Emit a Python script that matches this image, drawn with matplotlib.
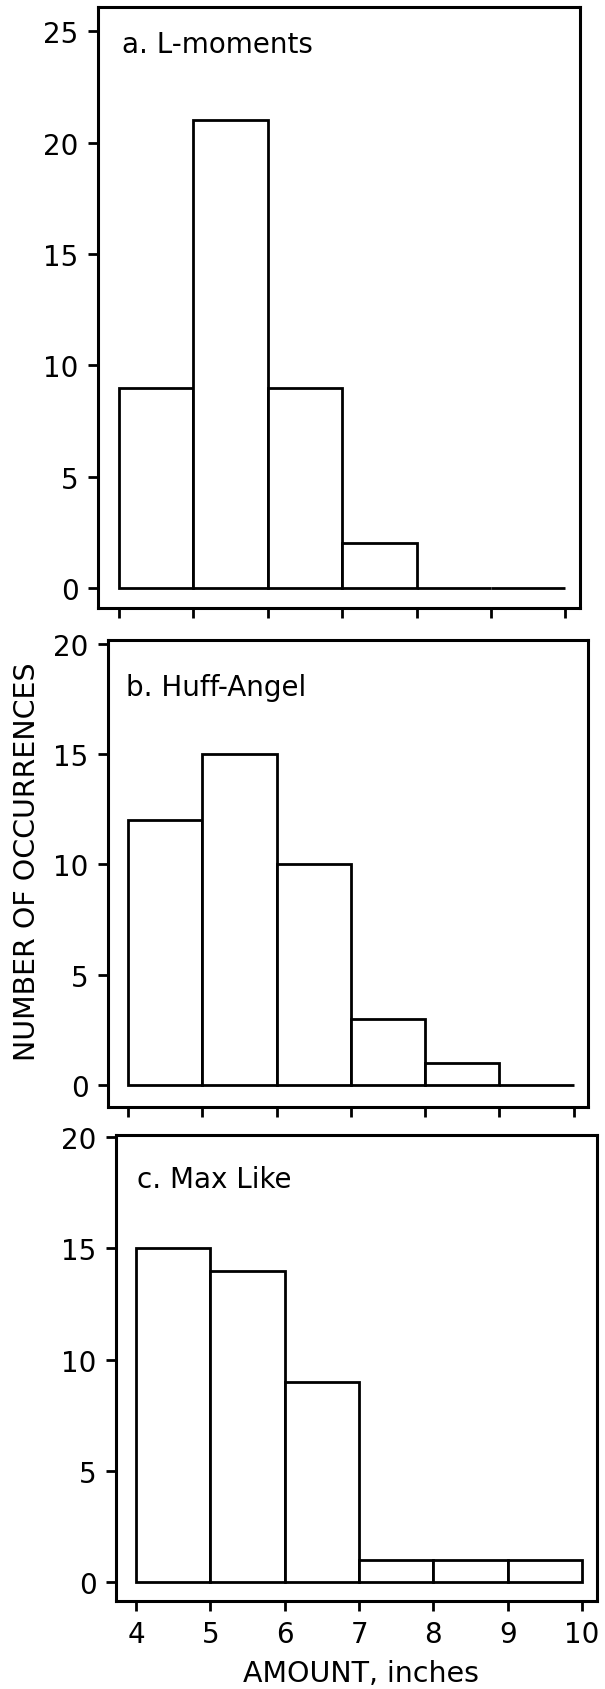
import numpy as np
import matplotlib
matplotlib.use("Agg")
import matplotlib.pyplot as plt

# --- data: counts per 1-inch bin ---
bin_left = [4, 5, 6, 7, 8, 9]
bin_edges = [4, 5, 6, 7, 8, 9, 10]
panel_titles = ["a. L-moments", "b. Huff-Angel", "c. Max Like"]
counts_lmom = [9, 21, 9, 2, 0, 0]
counts_huff = [12, 15, 10, 3, 1, 0]
counts_maxlike = [15, 14, 9, 1, 1, 1]
yticks_a = [0, 5, 10, 15, 20, 25]
yticks_bc = [0, 5, 10, 15, 20]

plt.rcParams['font.family'] = ['DejaVu Sans']

fig = plt.figure(figsize=(6.05, 16.9), dpi=100)

# axes boxes (left, bottom, width, height) in figure fractions
boxes = [
    [0.162, 0.6396, 0.797, 0.3556],
    [0.1785, 0.3444, 0.793, 0.2763],
    [0.1917, 0.0521, 0.795, 0.2757],
]
xlims = [(3.717, 10.2), (3.73, 10.19), (3.73, 10.2)]
ylims = [(-0.90, 26.08), (-1.0, 20.18), (-0.85, 20.09)]
text_x = [0.05, 0.038, 0.044]
text_y = [0.962, 0.93, 0.935]
all_counts = [counts_lmom, counts_huff, counts_maxlike]
all_yticks = [yticks_a, yticks_bc, yticks_bc]

for i, (box, counts) in enumerate(zip(boxes, all_counts)):
    ax = fig.add_axes(box)
    ax.bar(bin_left, counts, width=1.0, align='edge',
           facecolor='white', edgecolor='black', linewidth=2.0)
    ax.set_xlim(*xlims[i])
    ax.set_ylim(*ylims[i])
    ax.set_xticks(bin_edges)
    ax.set_yticks(all_yticks[i])
    ax.tick_params(direction='out', length=7, width=2.0, pad=7,
                   labelsize=20)
    if i < 2:
        ax.set_xticklabels([])
    for s in ax.spines.values():
        s.set_linewidth(2.2)
    ax.text(text_x[i], text_y[i], panel_titles[i], transform=ax.transAxes,
            fontsize=20, ha='left', va='top')

fig.text(0.045, 0.49, "NUMBER OF OCCURRENCES", rotation=90,
         ha='center', va='center', fontsize=20.5)
fig.text(0.597, 0.0047, "AMOUNT, inches", ha='center', va='baseline',
         fontsize=20.5)

fig.savefig("out.png", dpi=100)
